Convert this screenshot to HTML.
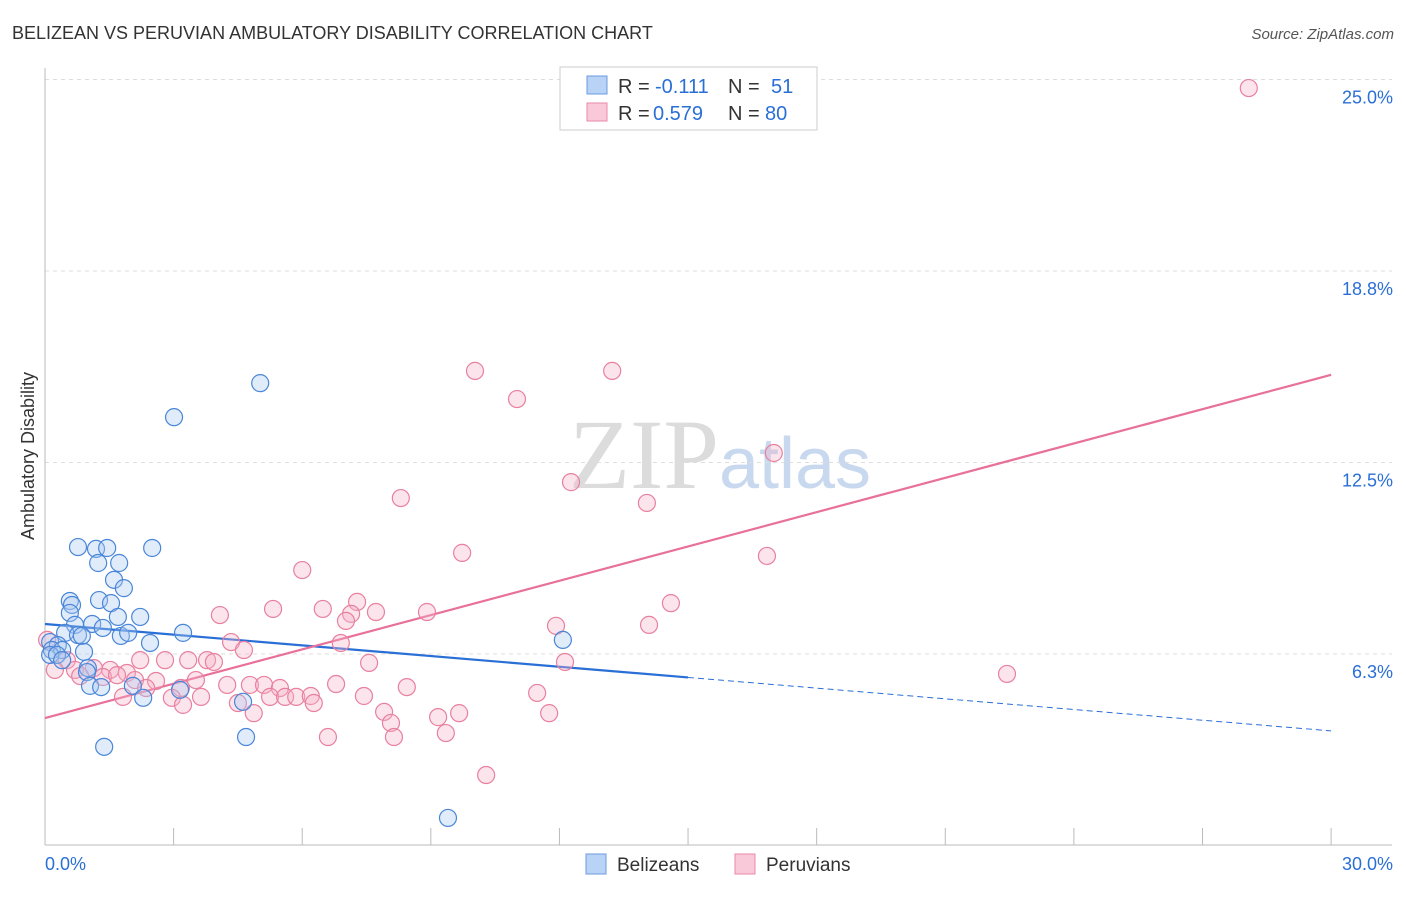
<!DOCTYPE html>
<html><head><meta charset="utf-8"><style>
body{margin:0;background:#fff;font-family:"Liberation Sans",sans-serif}
svg text{font-family:"Liberation Sans",sans-serif}
</style></head><body>
<svg id="chart" width="1406" height="892" xmlns="http://www.w3.org/2000/svg">
<text x="12" y="39" font-size="18" fill="#333">BELIZEAN VS PERUVIAN AMBULATORY DISABILITY CORRELATION CHART</text>
<text x="1394" y="39" font-size="15" fill="#555" text-anchor="end" font-style="italic">Source: ZipAtlas.com</text>
<text x="720" y="488" font-size="100" text-anchor="middle"><tspan fill="#dcdcdc" font-family="Liberation Serif">ZIP</tspan><tspan fill="#c8d8ee" font-size="72">atlas</tspan></text>
<text transform="translate(34,456) rotate(-90)" font-size="18" fill="#333" text-anchor="middle">Ambulatory Disability</text>
<g id="grid"></g><g id="axes"></g><g id="lines"></g><g id="pts"></g>
<g>
<rect x="560" y="67" width="257" height="63" fill="#fff" stroke="#ccc"/>
<rect x="587" y="76" width="20" height="18" fill="#b8d3f5" stroke="#6a9be0"/>
<rect x="587" y="103" width="20" height="18" fill="#fac9d9" stroke="#e88aa8"/>
<text x="618" y="93" font-size="20" fill="#333">R =</text>
<text x="655" y="93" font-size="20" fill="#2a6fd6">-0.111</text>
<text x="728" y="93" font-size="20" fill="#333">N =</text>
<text x="771" y="93" font-size="20" fill="#2a6fd6">51</text>
<text x="618" y="120" font-size="20" fill="#333">R =</text>
<text x="653" y="120" font-size="20" fill="#2a6fd6">0.579</text>
<text x="728" y="120" font-size="20" fill="#333">N =</text>
<text x="765" y="120" font-size="20" fill="#2a6fd6">80</text>
</g>
<g>
<rect x="586" y="854" width="20" height="20" fill="#b8d3f5" stroke="#6a9be0"/>
<text x="617" y="871" font-size="19" fill="#333">Belizeans</text>
<rect x="735" y="854" width="20" height="20" fill="#fac9d9" stroke="#e88aa8"/>
<text x="766" y="871" font-size="19" fill="#333">Peruvians</text>
</g>
</svg>
<script>
const yTicks=[6.25,12.5,18.75,25];
const yTickLabels=["6.3%","12.5%","18.8%","25.0%"];
const blueX=[5.02,3.01,0.77,1.19,1.45,2.50,1.24,1.73,1.61,1.84,0.58,0.63,1.26,1.54,0.58,1.70,2.22,0.70,1.10,1.35,0.47,0.77,0.86,1.77,1.94,3.22,2.45,0.12,0.30,0.16,0.40,0.12,0.28,0.91,0.40,1.00,0.98,1.05,1.31,2.05,3.15,2.29,4.62,4.69,1.38,12.08,9.40];
const blueY=[15.09,13.98,9.74,9.68,9.71,9.71,9.22,9.22,8.67,8.40,7.98,7.85,8.01,7.91,7.59,7.46,7.46,7.20,7.23,7.10,6.94,6.87,6.84,6.84,6.94,6.94,6.61,6.64,6.54,6.38,6.38,6.22,6.22,6.32,6.05,5.79,5.66,5.21,5.17,5.21,5.08,4.82,4.69,3.54,3.22,6.71,0.90];
const pinkX=[28.08,10.03,13.23,11.01,17.00,12.27,8.30,14.04,9.73,16.84,6.00,14.60,7.28,5.32,6.48,7.14,7.72,8.91,4.08,7.02,11.92,14.09,4.34,6.90,4.64,0.05,0.51,2.22,2.80,3.34,3.78,3.94,7.56,12.13,0.23,0.70,1.14,1.52,1.91,22.44,0.82,1.35,1.68,2.10,2.59,3.52,2.36,3.17,4.25,4.78,5.11,5.48,6.79,8.44,1.82,2.96,3.64,5.25,5.60,5.86,6.20,7.44,11.48,3.22,4.50,6.27,4.87,7.91,9.17,9.66,11.76,8.07,6.60,8.14,9.35,10.29];
const pinkY=[24.72,15.49,15.49,14.57,12.81,11.86,11.34,11.18,9.55,9.45,8.99,7.91,7.95,7.72,7.72,7.56,7.62,7.62,7.52,7.33,7.17,7.20,6.64,6.61,6.38,6.71,6.05,6.05,6.05,6.05,6.05,5.99,5.96,5.99,5.73,5.73,5.79,5.73,5.63,5.60,5.53,5.50,5.56,5.40,5.37,5.40,5.14,5.14,5.24,5.24,5.24,5.14,5.27,5.17,4.85,4.82,4.85,4.85,4.85,4.85,4.88,4.88,4.98,4.59,4.65,4.65,4.32,4.36,4.19,4.32,4.32,4.00,3.54,3.54,3.67,2.30];
const blueTrend=[7.23,3.74];
const pinkTrend=[4.16,15.36];
const xAxisLabels=["0.0%","30.0%"];
const NS="http://www.w3.org/2000/svg";
const X=v=>45+v*42.87, Y=v=>845.5-v*30.64;
function mk(p,t,a){const e=document.createElementNS(NS,t);for(const k in a)e.setAttribute(k,a[k]);document.getElementById(p).appendChild(e);return e;}
yTicks.forEach((t,i)=>{
 const g=mk('grid','line',{x1:45,x2:1392,y1:Y(t),y2:Y(t),stroke:'#ddd','stroke-dasharray':'4,4'});
 
 
 const l=mk('grid','text',{x:1393,y:Y(t)+24,'font-size':18,fill:'#2a6fd6','text-anchor':'end'});l.textContent=yTickLabels[i];
 
 
});
let a=mk('axes','line',{x1:45,x2:45,y1:68,y2:845,stroke:'#bbb'});


a=mk('axes','line',{x1:45,x2:1392,y1:845,y2:845,stroke:'#bbb'});


for(let i=0;i<=10;i++){const t=mk('axes','line',{x1:X(i*3),x2:X(i*3),y1:828,y2:845,stroke:'#bbb'});
 
 }
let tl=mk('axes','text',{x:45,y:870,'font-size':18,fill:'#2a6fd6'});tl.textContent=xAxisLabels[0];


tl=mk('axes','text',{x:1393,y:870,'font-size':18,fill:'#2a6fd6','text-anchor':'end'});tl.textContent=xAxisLabels[1];


function pts(xs,ys,fill,stroke,name){xs.forEach((x,i)=>{const c=mk('pts','circle',{cx:X(x),cy:Y(ys[i]),r:8.5,fill:fill,'fill-opacity':0.35,stroke:stroke,'stroke-width':1.2});
 
 });}
pts(pinkX,pinkY,'#f7b3c9','#e8809f','peruvian-point');
pts(blueX,blueY,'#a9c9f2','#4a86d8','belizean-point');
const bm=blueTrend[0]+(blueTrend[1]-blueTrend[0])*0.5;
let ln=mk('lines','line',{x1:X(0),y1:Y(blueTrend[0]),x2:X(15),y2:Y(bm),stroke:'#2a6fd6','stroke-width':2.2});


ln=mk('lines','line',{x1:X(15),y1:Y(bm),x2:X(30),y2:Y(blueTrend[1]),stroke:'#2a6fd6','stroke-width':1,'stroke-dasharray':'6,4'});


ln=mk('lines','line',{x1:X(0),y1:Y(pinkTrend[0]),x2:X(30),y2:Y(pinkTrend[1]),stroke:'#e8709a','stroke-width':2.2});


</script>
</body></html>
